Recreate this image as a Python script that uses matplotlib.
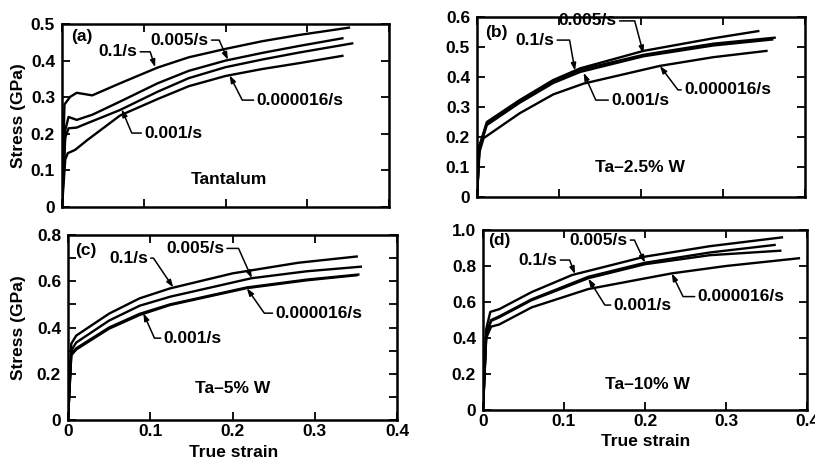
import matplotlib
matplotlib.use("Agg")
import matplotlib.pyplot as plt
from matplotlib.ticker import FuncFormatter, MultipleLocator

plt.rcParams['font.family'] = ['Liberation Sans', 'DejaVu Sans']
plt.rcParams['font.weight'] = 'bold'

# ────────────────────────────────────────────────
# DATA
# ────────────────────────────────────────────────
RATES = ['0.1/s', '0.005/s', '0.001/s', '0.000016/s']

# (a) Tantalum
a_x_01 = [0, 0.003, 0.010, 0.018, 0.037, 0.071, 0.117, 0.155, 0.20, 0.245, 0.29, 0.351]
a_y_01 = [0, 0.28, 0.301, 0.312, 0.305, 0.338, 0.381, 0.409, 0.432, 0.453, 0.470, 0.490]
a_x_005 = [0, 0.004, 0.008, 0.018, 0.037, 0.071, 0.117, 0.155, 0.20, 0.245, 0.29, 0.343]
a_y_005 = [0, 0.21, 0.246, 0.238, 0.252, 0.288, 0.338, 0.372, 0.400, 0.421, 0.440, 0.461]
a_x_0001 = [0, 0.004, 0.008, 0.018, 0.031, 0.071, 0.117, 0.155, 0.20, 0.245, 0.29, 0.355]
a_y_0001 = [0, 0.19, 0.215, 0.217, 0.229, 0.265, 0.315, 0.352, 0.382, 0.403, 0.422, 0.447]
a_x_000016 = [0, 0.004, 0.007, 0.016, 0.031, 0.071, 0.117, 0.155, 0.20, 0.245, 0.29, 0.343]
a_y_000016 = [0, 0.13, 0.147, 0.156, 0.183, 0.250, 0.295, 0.330, 0.358, 0.377, 0.393, 0.413]

# (b) Ta-2.5% W
b_x_01 = [0, 0.003, 0.008, 0.012, 0.052, 0.093, 0.126, 0.203, 0.288, 0.343]
b_y_01 = [0, 0.17, 0.215, 0.25, 0.323, 0.39, 0.429, 0.487, 0.529, 0.553]
b_x_005 = [0, 0.003, 0.008, 0.012, 0.052, 0.093, 0.126, 0.203, 0.288, 0.363]
b_y_005 = [0, 0.17, 0.21, 0.245, 0.32, 0.386, 0.424, 0.474, 0.511, 0.531]
b_x_0001 = [0, 0.003, 0.008, 0.012, 0.052, 0.093, 0.126, 0.203, 0.288, 0.36]
b_y_0001 = [0, 0.17, 0.205, 0.24, 0.314, 0.38, 0.417, 0.469, 0.505, 0.525]
b_x_000016 = [0, 0.003, 0.008, 0.052, 0.093, 0.13, 0.223, 0.288, 0.353]
b_y_000016 = [0, 0.15, 0.196, 0.279, 0.342, 0.378, 0.437, 0.466, 0.487]

# (c) Ta-5% W
c_x_01 = [0, 0.004, 0.01, 0.05, 0.087, 0.124, 0.2, 0.28, 0.351]
c_y_01 = [0, 0.33, 0.365, 0.46, 0.526, 0.569, 0.634, 0.68, 0.707]
c_x_005 = [0, 0.004, 0.01, 0.05, 0.087, 0.124, 0.223, 0.29, 0.356]
c_y_005 = [0, 0.3, 0.335, 0.43, 0.494, 0.533, 0.613, 0.643, 0.663]
c_x_0001 = [0, 0.004, 0.01, 0.05, 0.087, 0.124, 0.217, 0.29, 0.353]
c_y_0001 = [0, 0.285, 0.31, 0.4, 0.459, 0.5, 0.573, 0.607, 0.629]
c_x_000016 = [0, 0.004, 0.01, 0.05, 0.087, 0.124, 0.217, 0.29, 0.351]
c_y_000016 = [0, 0.28, 0.305, 0.395, 0.454, 0.497, 0.57, 0.604, 0.626]

# (d) Ta-10% W
d_x_01 = [0, 0.004, 0.009, 0.02, 0.06, 0.11, 0.2, 0.28, 0.369]
d_y_01 = [0, 0.45, 0.545, 0.56, 0.655, 0.75, 0.852, 0.91, 0.959]
d_x_005 = [0, 0.004, 0.01, 0.02, 0.06, 0.13, 0.2, 0.28, 0.36]
d_y_005 = [0, 0.42, 0.50, 0.52, 0.615, 0.74, 0.818, 0.875, 0.917]
d_x_0001 = [0, 0.004, 0.01, 0.02, 0.06, 0.13, 0.2, 0.28, 0.367]
d_y_0001 = [0, 0.42, 0.495, 0.515, 0.61, 0.732, 0.81, 0.86, 0.885]
d_x_000016 = [0, 0.004, 0.01, 0.02, 0.06, 0.13, 0.233, 0.3, 0.39]
d_y_000016 = [0, 0.40, 0.463, 0.475, 0.57, 0.672, 0.759, 0.80, 0.843]

PANEL_LETTERS = ['(a)', '(b)', '(c)', '(d)']
MATERIALS = ['Tantalum', 'Ta\u20132.5% W', 'Ta\u20135% W', 'Ta\u201310% W']
Y_MAX = [0.5, 0.6, 0.8, 1.0]

CURVES = [
    [(a_x_01, a_y_01), (a_x_005, a_y_005), (a_x_0001, a_y_0001), (a_x_000016, a_y_000016)],
    [(b_x_01, b_y_01), (b_x_005, b_y_005), (b_x_0001, b_y_0001), (b_x_000016, b_y_000016)],
    [(c_x_01, c_y_01), (c_x_005, c_y_005), (c_x_0001, c_y_0001), (c_x_000016, c_y_000016)],
    [(d_x_01, d_y_01), (d_x_005, d_y_005), (d_x_0001, d_y_0001), (d_x_000016, d_y_000016)],
]

# ────────────────────────────────────────────────
# LAYOUT (pixel boxes: left, right, top, bottom)
# ────────────────────────────────────────────────
W, H = 815, 461
BOXES = [(62, 389, 24, 207), (477, 805, 17, 197), (68, 397, 235, 420), (483, 807, 230, 410)]

# label placement per panel: (tip xy, text xy, angle of the leader at the tip)
LEADERS = [
    [((0.114, 0.382), (0.0685, 0.424), -72), ((0.203, 0.402), (0.144, 0.456), -66),
     ((0.073, 0.267), (0.136, 0.202), 113), ((0.205, 0.36), (0.291, 0.292), 117)],
    [((0.1195, 0.421), (0.0707, 0.523), -80), ((0.203, 0.478), (0.135, 0.587), -75),
     ((0.13, 0.414), (0.199, 0.323), 114), ((0.223, 0.437), (0.3055, 0.357), 127)],
    [((0.128, 0.573), (0.0736, 0.70), -56), ((0.2235, 0.613), (0.1545, 0.742), -66),
     ((0.0916, 0.462), (0.1515, 0.354), 114), ((0.2174, 0.57), (0.305, 0.462), 125)],
    [((0.1136, 0.755), (0.068, 0.833), -69), ((0.2, 0.818), (0.1426, 0.944), -65),
     ((0.13, 0.73), (0.197, 0.583), 122), ((0.233, 0.759), (0.3185, 0.63), 116)],
]
LETTER_POS = [(0.011, 0.467), (0.01, 0.55), (0.0085, 0.735), (0.006, 0.944)]
MATERIAL_POS = [(0.204, 0.074), (0.199, 0.097), (0.2, 0.138), (0.203, 0.139)]

FS = 12.5


def fmt(v, pos):
    return '0' if abs(v) < 1e-9 else f'{v:.1f}'


fig = plt.figure(figsize=(W / 100, H / 100), dpi=100)

for i in range(4):
    l, r, t, b = BOXES[i]
    ax = fig.add_axes([l / W, 1 - b / H, (r - l) / W, (b - t) / H])

    for x, y in CURVES[i]:
        ax.plot(x, y, color='black', lw=1.7, solid_joinstyle='round')

    ax.set_xlim(0, 0.4)
    ax.set_ylim(0, Y_MAX[i])
    ax.xaxis.set_major_locator(MultipleLocator(0.1))
    if i == 2:
        ax.yaxis.set_major_locator(MultipleLocator(0.2))
        ax.yaxis.set_minor_locator(MultipleLocator(0.1))
    elif i == 3:
        ax.yaxis.set_major_locator(MultipleLocator(0.2))
    else:
        ax.yaxis.set_major_locator(MultipleLocator(0.1))
    ax.yaxis.set_major_formatter(FuncFormatter(fmt))
    ax.xaxis.set_major_formatter(FuncFormatter(fmt))

    ax.tick_params(which='both', direction='in', top=True, right=True,
                   length=6, width=1.3, labelsize=FS, pad=3)
    ax.tick_params(axis='y', pad=5)
    if i < 2:
        ax.tick_params(axis='x', labelbottom=False)
    for s in ax.spines.values():
        s.set_linewidth(1.8)

    if i in (0, 2):
        ax.set_ylabel('Stress (GPa)', fontsize=FS, fontweight='bold')
        ax.yaxis.set_label_coords(-(l - 26) / (r - l), 0.5)
    if i >= 2:
        ax.set_xlabel('True strain', fontsize=FS, fontweight='bold')
        ax.xaxis.set_label_coords(0.503, -0.135)

    ax.text(LETTER_POS[i][0], LETTER_POS[i][1], PANEL_LETTERS[i], fontsize=FS,
            ha='left', va='center')
    ax.text(MATERIAL_POS[i][0], MATERIAL_POS[i][1], MATERIALS[i], fontsize=FS,
            ha='center', va='center')

    for rate, (tip, txt, ang) in zip(RATES, LEADERS[i]):
        ax.annotate(rate, xy=tip, xytext=txt, fontsize=FS, ha='center', va='center',
                    annotation_clip=False,
                    arrowprops=dict(arrowstyle='-|>,head_length=0.35,head_width=0.12',
                                    color='black', lw=1.1, shrinkA=0, shrinkB=0,
                                    connectionstyle=f'angle,angleA=0,angleB={ang},rad=0'))

fig.savefig('out.png', dpi=100, facecolor='white')
